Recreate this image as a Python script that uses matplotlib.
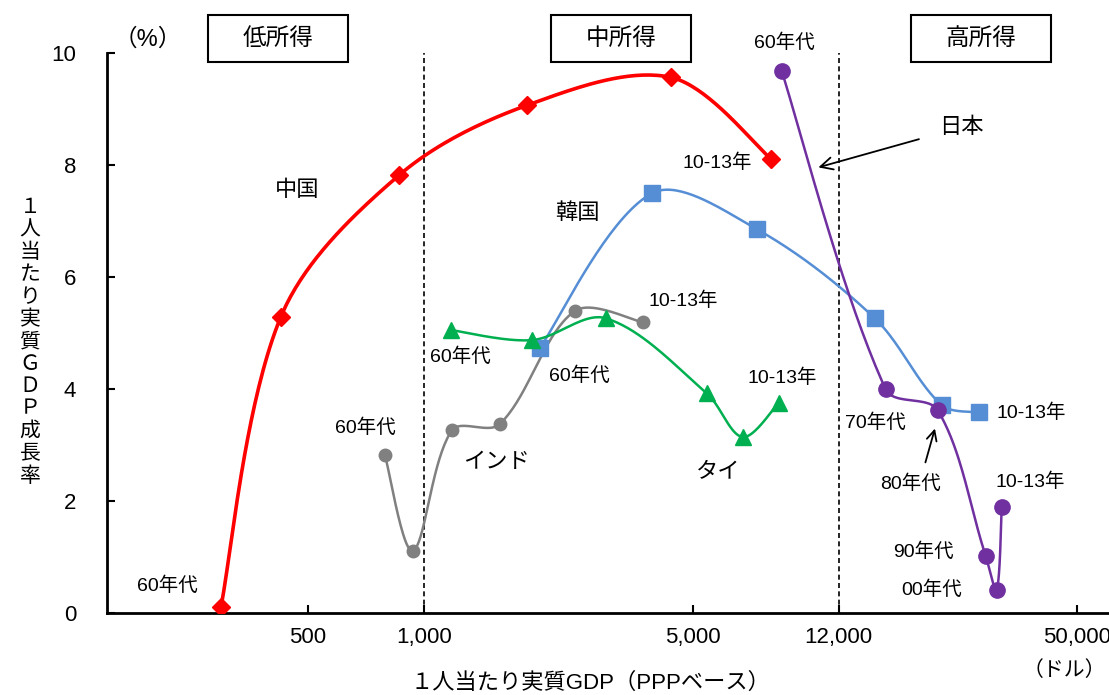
import numpy as np
import matplotlib
matplotlib.use('Agg')
import matplotlib.pyplot as plt
from matplotlib.patches import Rectangle

plt.rcParams['font.family'] = ['Liberation Sans', 'Noto Sans CJK JP']

# per-capita real GDP (PPP, USD) and growth rate (%) by decade
china_gdp = [297, 425, 862, 1854, 4390, 7985]
china_growth = [0.1, 5.28, 7.81, 9.06, 9.56, 8.11]

korea_gdp = [2004, 3918, 7345, 14880, 22210, 27720]
korea_growth = [4.73, 7.49, 6.85, 5.26, 3.71, 3.58]

india_gdp = [793, 937, 1184, 1577, 2471, 3712]
india_growth = [2.82, 1.11, 3.26, 3.37, 5.39, 5.19]

thai_gdp = [1177, 1910, 2974, 5445, 6752, 8375]
thai_growth = [5.05, 4.87, 5.26, 3.92, 3.14, 3.75]

japan_gdp = [8527, 15890, 21690, 28900, 30870, 31810]
japan_growth = [9.67, 3.99, 3.62, 1.02, 0.41, 1.89]

xticks = [500, 1000, 5000, 12000, 50000]
xtick_labels = ['500', '1,000', '5,000', '12,000', '50,000']
yticks = [0, 2, 4, 6, 8, 10]


def smooth(ax, xs, ys, n=40):
    # smoothed line like Excel's, computed in screen space
    pts = ax.transData.transform(np.column_stack([xs, ys]))
    P = np.vstack([pts[0], pts, pts[-1]])
    segs = []
    t = np.linspace(0, 1, n)[:, None]
    for i in range(1, len(P) - 2):
        p0, p1, p2, p3 = P[i - 1], P[i], P[i + 1], P[i + 2]
        d01 = np.hypot(*(p1 - p0))
        d12 = np.hypot(*(p2 - p1))
        d23 = np.hypot(*(p3 - p2))
        f1 = d12 / (d01 + d12) / 3 if d01 > 0 else 1 / 6
        f2 = d12 / (d12 + d23) / 3 if d23 > 0 else 1 / 6
        c1 = p1 + (p2 - p0) * f1
        c2 = p2 - (p3 - p1) * f2
        segs.append((1 - t) ** 3 * p1 + 3 * (1 - t) ** 2 * t * c1
                    + 3 * (1 - t) * t ** 2 * c2 + t ** 3 * p2)
    curve = ax.transData.inverted().transform(np.vstack(segs))
    return curve[:, 0], curve[:, 1]


fig = plt.figure(figsize=(11.09, 6.95), dpi=100)
ax = fig.add_axes([106.7 / 1109, 82 / 695, 1001 / 1109, 560.3 / 695])
ax.set_xscale('log')
ax.set_xlim(150, 60000)
ax.set_ylim(0, 10)

series = [
    (china_gdp, china_growth, '#FF0000', 'D', 9, 2.6),
    (korea_gdp, korea_growth, '#558ED5', 's', 11, 1.8),
    (india_gdp, india_growth, '#808080', 'o', 9, 1.8),
    (thai_gdp, thai_growth, '#00B050', '^', 11, 1.8),
    (japan_gdp, japan_growth, '#7030A0', 'o', 11, 1.8),
]
for xs, ys, c, m, ms, lw in series:
    sx, sy = smooth(ax, xs, ys)
    ax.plot(sx, sy, color=c, lw=lw, solid_capstyle='round', zorder=3)
    ax.plot(xs, ys, linestyle='none', marker=m, ms=ms, color=c,
            markeredgecolor=c, zorder=4)

# income boundaries
for xv in [1000, 12000]:
    ax.axvline(xv, color='black', lw=1.2, ls=(0, (3, 2)), zorder=1)

ax.spines['top'].set_visible(False)
ax.spines['right'].set_visible(False)
ax.spines['left'].set_linewidth(2)
ax.spines['bottom'].set_linewidth(2)
ax.set_xticks(xticks)
ax.set_xticklabels(xtick_labels)
ax.xaxis.set_minor_locator(matplotlib.ticker.NullLocator())
ax.set_yticks(yticks)
ax.tick_params(direction='in', length=6, width=1.5, labelsize=16, pad=10)
ax.tick_params(axis='y', pad=22)

lab = dict(fontsize=14, ha='center', va='center', clip_on=False)
ax.text(216, 0.48, '60年代', **lab)
ax.text(707, 3.30, '60年代', **lab)
ax.text(1249, 4.57, '60年代', **lab)
ax.text(2546, 4.24, '60年代', **lab)
ax.text(8683, 10.17, '60年代', **lab)
ax.text(5780, 8.03, '10-13年', **lab)
ax.text(4716, 5.58, '10-13年', **lab)
ax.text(8579, 4.19, '10-13年', **lab)
ax.text(38060, 3.58, '10-13年', **lab)
ax.text(37840, 2.34, '10-13年', **lab)
ax.text(14970, 3.39, '70年代', **lab)
ax.text(18450, 2.30, '80年代', **lab)
ax.text(19940, 1.09, '90年代', **lab)
ax.text(20920, 0.41, '00年代', **lab)

big = dict(fontsize=16, ha='center', va='center')
ax.text(468, 7.54, '中国', **big)
ax.text(2516, 7.13, '韓国', **big)
ax.text(1550, 2.68, 'インド', **big)
ax.text(5815, 2.51, 'タイ', **big)
ax.text(25040, 8.67, '日本', **big)

ax.annotate('', xy=(10450, 7.94), xytext=(19700, 8.47),
            arrowprops=dict(arrowstyle='->', color='black', lw=1.3,
                            mutation_scale=22))
ax.annotate('', xy=(21430, 3.34), xytext=(20060, 2.64),
            arrowprops=dict(arrowstyle='->', color='black', lw=1.3,
                            mutation_scale=18))

# income group boxes
for x0, label in [(208, '低所得'), (551, '中所得'), (911, '高所得')]:
    fig.patches.append(Rectangle((x0 / 1109, 1 - 62 / 695), 140 / 1109, 47 / 695,
                                 transform=fig.transFigure, fill=False,
                                 edgecolor='black', lw=1.5))
    fig.text((x0 + 70) / 1109, 1 - 39 / 695, label, fontsize=17,
             ha='center', va='center')

fig.text(148 / 1109, 1 - 40 / 695, '（%）', fontsize=17, ha='center', va='center')
fig.text(590 / 1109, 1 - 683 / 695, '１人当たり実質GDP（PPPベース）', fontsize=16,
         ha='center', va='center')
fig.text(1064 / 1109, 1 - 670 / 695, '（ドル）', fontsize=15, ha='center', va='center')
fig.text(30 / 1109, 1 - 342 / 695, '\n'.join('１人当たり実質ＧＤＰ成長率'),
         fontsize=15, ha='center', va='center', linespacing=1.22)

fig.savefig('out.png', dpi=100)
